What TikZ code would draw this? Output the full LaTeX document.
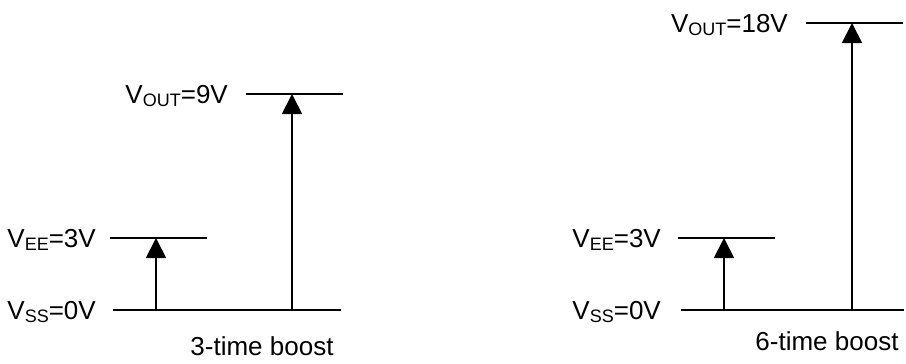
\documentclass[tikz,border=0pt]{standalone}
\usepackage{fontspec}
\setmainfont{Liberation Sans}
\usetikzlibrary{arrows.meta}
\newcommand{\mysub}[1]{\raisebox{-3bp}{\fontsize{18bp}{20bp}\selectfont #1}}
\tikzset{
  lvl/.style={line width=1.8bp},
  up/.style={line width=1.8bp,-{Triangle[width=20bp,length=20bp]}},
  lab/.style={anchor=base east,inner sep=0pt,font=\fontsize{26bp}{30bp}\selectfont},
  captext/.style={anchor=base,inner sep=0pt,font=\fontsize{26bp}{30bp}\selectfont}
}
\begin{document}
\begin{tikzpicture}[x=1bp,y=-1bp]
\useasboundingbox (0,0) rectangle (906,363);
% left diagram
\coordinate (lssA) at (113,310); \coordinate (lssB) at (341,310);
\coordinate (leeA) at (110,238); \coordinate (leeB) at (207,238);
\coordinate (loA) at (246,94);   \coordinate (loB) at (343,94);
\coordinate (la1s) at (156,310); \coordinate (la1e) at (156,238);
\coordinate (la2s) at (292,310); \coordinate (la2e) at (292,94);
\draw[lvl] (lssA) -- (lssB);
\draw[lvl] (leeA) -- (leeB);
\draw[lvl] (loA) -- (loB);
\draw[up] (la1s) -- (la1e);
\draw[up] (la2s) -- (la2e);
\node[lab] (lee) at (96,247) {V\mysub{EE}=3V};
\node[lab] (lss) at (96,319) {V\mysub{SS}=0V};
\node[lab] (lo) at (228,103) {V\mysub{OUT}=9V};
\node[captext] (lc) at (262,355) {3-time boost};
% right diagram
\coordinate (rssA) at (681,310); \coordinate (rssB) at (904,310);
\coordinate (reeA) at (678,238); \coordinate (reeB) at (775,238);
\coordinate (roA) at (806,23);   \coordinate (roB) at (903,23);
\coordinate (ra1s) at (724,310); \coordinate (ra1e) at (724,238);
\coordinate (ra2s) at (852,310); \coordinate (ra2e) at (852,23);
\draw[lvl] (rssA) -- (rssB);
\draw[lvl] (reeA) -- (reeB);
\draw[lvl] (roA) -- (roB);
\draw[up] (ra1s) -- (ra1e);
\draw[up] (ra2s) -- (ra2e);
\node[lab] (ree) at (661,247) {V\mysub{EE}=3V};
\node[lab] (rss) at (661,319) {V\mysub{SS}=0V};
\node[lab] (ro) at (788,32) {V\mysub{OUT}=18V};
\node[captext] (rc) at (827,350) {6-time boost};
\end{tikzpicture}
\end{document}
